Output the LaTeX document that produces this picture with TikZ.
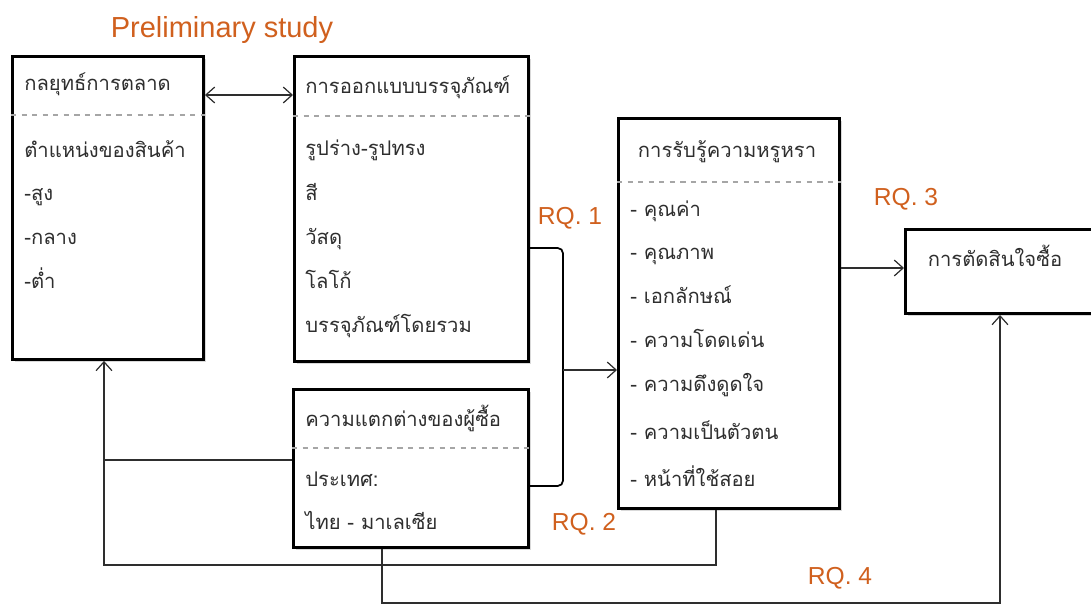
\documentclass[tikz,border=0pt]{standalone}
\usepackage{fontspec}
\setmainfont{Liberation Sans}
\newfontfamily\thaifont[Script=Thai]{Loma}
\usetikzlibrary{arrows.meta,shadows}
\definecolor{rqorange}{HTML}{D0601E}
\definecolor{ink}{HTML}{2E2E2E}
\tikzset{
  frame/.style={draw=black, line width=1.7pt, fill=white, anchor=north west,
    inner sep=0pt, drop shadow={opacity=0.3, shadow xshift=1.2pt, shadow yshift=-1.2pt}},
  entry/.style={anchor=base west, inner sep=0pt, text=ink, font=\thaifont\fontsize{11.5}{13}\selectfont},
  sep/.style={draw=gray!70, dashed, line width=0.6pt},
  link/.style={draw=ink, line width=0.7pt},
  rq/.style={text=rqorange, font=\fontsize{14}{16}\selectfont},
  >={Straight Barb[length=5pt,width=9pt]}
}
\begin{document}
\begin{tikzpicture}[x=0.02cm,y=-0.02cm]
\useasboundingbox (0,0) rectangle (1091,604);
% title
\node[rq, font=\fontsize{16.5}{19}\selectfont] (title) at (222,30) {Preliminary study};
% boxes
\node[frame, minimum width=3.82cm, minimum height=6.06cm] (mkt) at (11,55) {};
\node[frame, minimum width=4.68cm, minimum height=6.10cm] (pkg) at (293,55) {};
\node[frame, minimum width=4.70cm, minimum height=3.16cm] (buyer) at (292,388) {};
\node[frame, minimum width=4.42cm, minimum height=7.80cm] (perc) at (617,117) {};
\node[frame, minimum width=4.10cm, minimum height=1.68cm] (buy) at (904,228) {};
% marketing strategy
\node[entry] (mktHead) at (24,91) {กลยุทธ์การตลาด};
\draw[sep] (mkt.west |- 0,115) -- (mkt.east |- 0,115);
\node[entry] (mkt1) at (24,158) {ตำแหน่งของสินค้า};
\node[entry] (mkt2) at (24,201) {-สูง};
\node[entry] (mkt3) at (24,245) {-กลาง};
\node[entry] (mkt4) at (24,289) {-ต่ำ};
% package design
\node[entry] (pkgHead) at (305,94) {การออกแบบบรรจุภัณฑ์};
\draw[sep] (pkg.west |- 0,116) -- (pkg.east |- 0,116);
\node[entry] (pkg1) at (305,156) {รูปร่าง-รูปทรง};
\node[entry] (pkg2) at (305,201) {สี};
\node[entry] (pkg3) at (305,245) {วัสดุ};
\node[entry] (pkg4) at (305,289) {โลโก้};
\node[entry] (pkg5) at (305,333) {บรรจุภัณฑ์โดยรวม};
% buyer differences
\node[entry] (buyerHead) at (305,426) {ความแตกต่างของผู้ซื้อ};
\draw[sep] (buyer.west |- 0,448) -- (buyer.east |- 0,448);
\node[entry] (buyer1) at (305,486) {ประเทศ:};
\node[entry] (buyer2) at (305,529) {ไทย - มาเลเซีย};
% luxury perception
\node[entry, anchor=base] (percHead) at (727,158) {การรับรู้ความหรูหรา};
\draw[sep] (perc.west |- 0,182) -- (perc.east |- 0,182);
\node[entry] (perc1) at (630,217) {- คุณค่า};
\node[entry] (perc2) at (630,260) {- คุณภาพ};
\node[entry] (perc3) at (630,303) {- เอกลักษณ์};
\node[entry] (perc4) at (630,347) {- ความโดดเด่น};
\node[entry] (perc5) at (630,391) {- ความดึงดูดใจ};
\node[entry] (perc6) at (630,439) {- ความเป็นตัวตน};
\node[entry] (perc7) at (630,486) {- หน้าที่ใช้สอย};
% purchase decision
\node[entry, anchor=base] (buyHead) at (995,267) {การตัดสินใจซื้อ};
% labels
\node[rq] (rq1) at (570,218) {RQ. 1};
\node[rq] (rq2) at (584,524) {RQ. 2};
\node[rq] (rq3) at (906,199) {RQ. 3};
\node[rq] (rq4) at (840,578) {RQ. 4};
% connectors
\coordinate (brk) at (563,370);
\draw[link, <->] (mkt.east |- 0,95) -- (pkg.west |- 0,95);
\draw[link, line width=1pt, draw=black, rounded corners=3pt]
  (pkg.east |- 0,248) -- (brk |- 0,248) -- (brk |- 0,486) -- (buyer.east |- 0,486);
\draw[link, ->] (brk) -- (perc.west |- brk);
\draw[link, ->] (perc.east |- 0,268) -- (buy.west |- 0,268);
\coordinate (loopL) at (104,565);
\draw[link, ->] (perc.south -| 716,0) -- (716,565) -- (loopL) -- (mkt.south -| loopL);
\draw[link] (buyer.west |- 0,460) -- (loopL |- 0,460);
\coordinate (loopB) at (1000,603);
\draw[link, ->] (buyer.south -| 382,0) -- (382,603) -- (loopB) -- (buy.south -| loopB);
\end{tikzpicture}
\end{document}
